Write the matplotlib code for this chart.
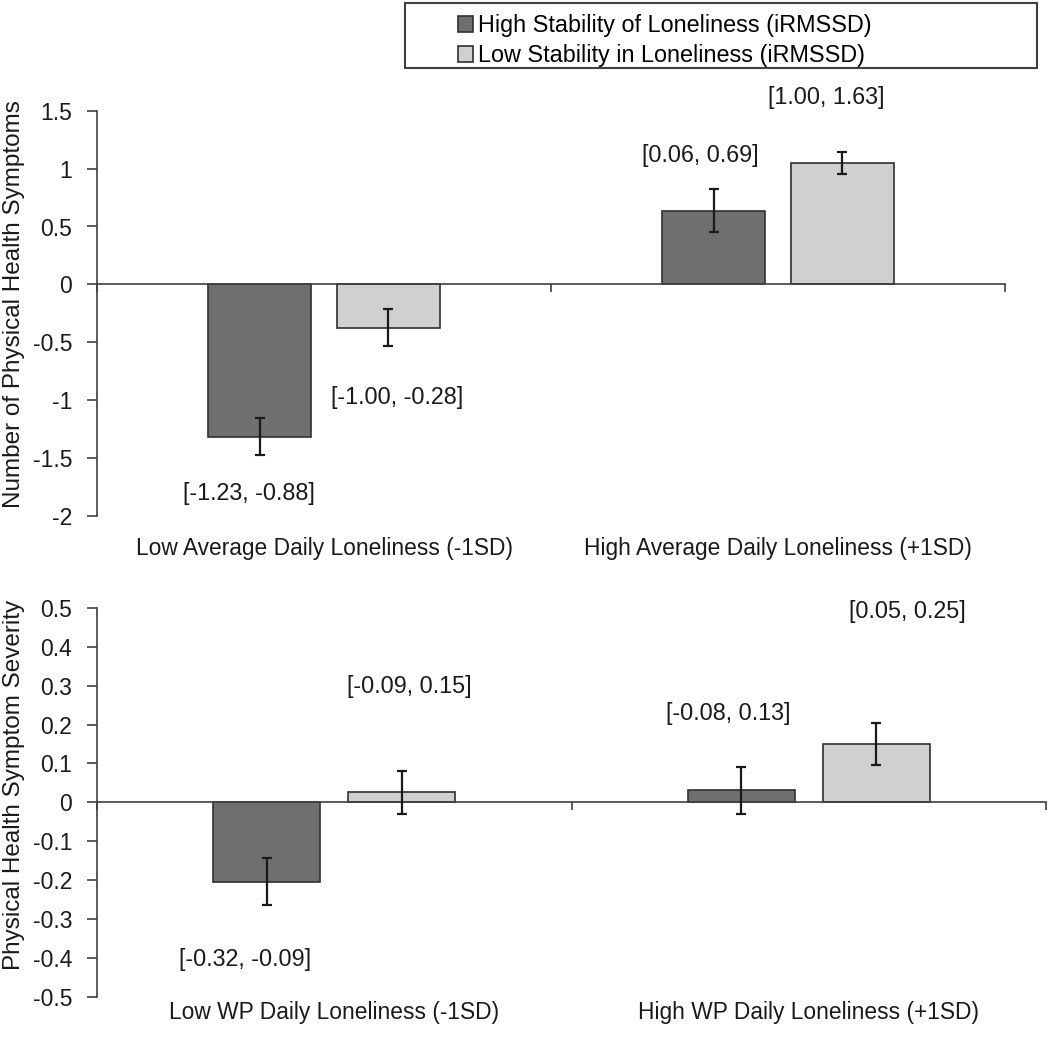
import matplotlib.pyplot as plt
import numpy as np
from matplotlib.patches import Rectangle

plt.rcParams['font.family'] = ['Liberation Sans', 'DejaVu Sans']

# данные
series = ['High Stability of Loneliness (iRMSSD)', 'Low Stability in Loneliness (iRMSSD)']
colors = ['#6f6f6f', '#d0d0d0']

top_cats = ['Low Average Daily Loneliness (-1SD)', 'High Average Daily Loneliness (+1SD)']
top_high = [-1.315, 0.638]
top_low = [-0.376, 1.049]
top_high_err = [0.16, 0.185]
top_low_err = [0.16, 0.092]
top_ci = ['[-1.23, -0.88]', '[-1.00, -0.28]', '[0.06, 0.69]', '[1.00, 1.63]']

bot_cats = ['Low WP Daily Loneliness (-1SD)', 'High WP Daily Loneliness (+1SD)']
bot_high = [-0.204, 0.031]
bot_low = [0.026, 0.150]
bot_high_err = [0.061, 0.061]
bot_low_err = [0.055, 0.053]
bot_ci = ['[-0.32, -0.09]', '[-0.09, 0.15]', '[-0.08, 0.13]', '[0.05, 0.25]']

# положение подписей доверительных интервалов (x, y в единицах данных)
top_ci_pos = [(0.335, -1.81), (0.661, -0.98), (1.328, 1.115), (1.606, 1.615)]
bot_ci_pos = [(0.312, -0.405), (0.658, 0.297), (1.33, 0.228), (1.707, 0.49)]

W, H = 1050, 1042
fig = plt.figure(figsize=(W / 100, H / 100), dpi=100)
ax1 = fig.add_axes([97 / W, 1 - 516 / H, (1005 - 97) / W, (516 - 110.7) / H])
ax2 = fig.add_axes([97 / W, 1 - 996.5 / H, (1046 - 97) / W, (996.5 - 608) / H])

FS = 16.8
edge = '#303030'
txt = '#1a1a1a'


def draw(ax, cats, high, low, high_err, low_err, ylim, yticks, ylabel, ci, ci_pos, lab_y, ylab_xy):
    x = np.arange(len(cats)) + 0.5
    w = 0.225
    off = 0.142
    b1 = ax.bar(x - off, high, w, color=colors[0], edgecolor=edge, linewidth=1.2, zorder=2)
    b2 = ax.bar(x + off, low, w, color=colors[1], edgecolor=edge, linewidth=1.2, zorder=2)
    ax.errorbar(x - off, high, yerr=high_err, fmt='none', ecolor=txt, elinewidth=1.6,
                capsize=3.8, capthick=1.6, zorder=3)
    ax.errorbar(x + off, low, yerr=low_err, fmt='none', ecolor=txt, elinewidth=1.6,
                capsize=3.8, capthick=1.6, zorder=3)
    ax.set_xlim(0, len(cats))
    ax.set_ylim(*ylim)
    ax.set_yticks(yticks)
    ax.set_yticklabels([('%g' % abs(t)) if abs(t) < 1e-9 else ('%g' % t) for t in yticks],
                       fontsize=16.5, color=txt)
    ax.set_ylabel(ylabel, fontsize=17.5, color=txt, va='center')
    ax.yaxis.set_label_coords(*ylab_xy)
    for s in ['top', 'right']:
        ax.spines[s].set_visible(False)
    ax.spines['bottom'].set_position(('data', 0))
    for s in ['bottom', 'left']:
        ax.spines[s].set_color('#404040')
        ax.spines[s].set_linewidth(1.2)
    ax.set_xticks(np.arange(len(cats) + 1))
    ax.set_xticklabels([])
    ax.tick_params(axis='x', direction='out', length=6, width=1.2, color='#404040')
    ax.tick_params(axis='y', direction='out', length=7, width=1.2, color='#404040', pad=11)
    for xc, c in zip(x, cats):
        ax.text(xc, lab_y, c, transform=ax.get_xaxis_transform(), ha='center', va='center',
                fontsize=16.4, color=txt)
    for t, (tx, ty) in zip(ci, ci_pos):
        ax.text(tx, ty, t, ha='center', va='center', fontsize=FS, color=txt)
    return b1, b2


b1, b2 = draw(ax1, top_cats, top_high, top_low, top_high_err, top_low_err, (-2, 1.5),
              np.arange(-2, 1.51, 0.5), 'Number of Physical Health Symptoms', top_ci, top_ci_pos,
              -(548 - 516) / (516 - 110.7), (-(97 - 14) / 908, (516 - 304) / (516 - 110.7)))
draw(ax2, bot_cats, bot_high, bot_low, bot_high_err, bot_low_err, (-0.5, 0.5),
     np.round(np.arange(-0.5, 0.51, 0.1), 1), 'Physical Health Symptom Severity', bot_ci, bot_ci_pos,
     -(1012 - 996.5) / (996.5 - 608), (-(97 - 14) / 949, (996.5 - 785) / (996.5 - 608)))

fig.legend([b1, b2], series, loc='upper left', bbox_to_anchor=(458 / W, 1 - 14 / H),
           frameon=False, fontsize=FS, handlelength=0.65, handleheight=0.65,
           handletextpad=0.2, labelspacing=0.3, borderpad=0, borderaxespad=0)
fig.patches.append(Rectangle((405 / W, 1 - 68 / H), (1037 - 405) / W, 65 / H,
                             transform=fig.transFigure, fill=False, edgecolor='#404040', lw=1.5))

fig.savefig('out.png', dpi=100)
